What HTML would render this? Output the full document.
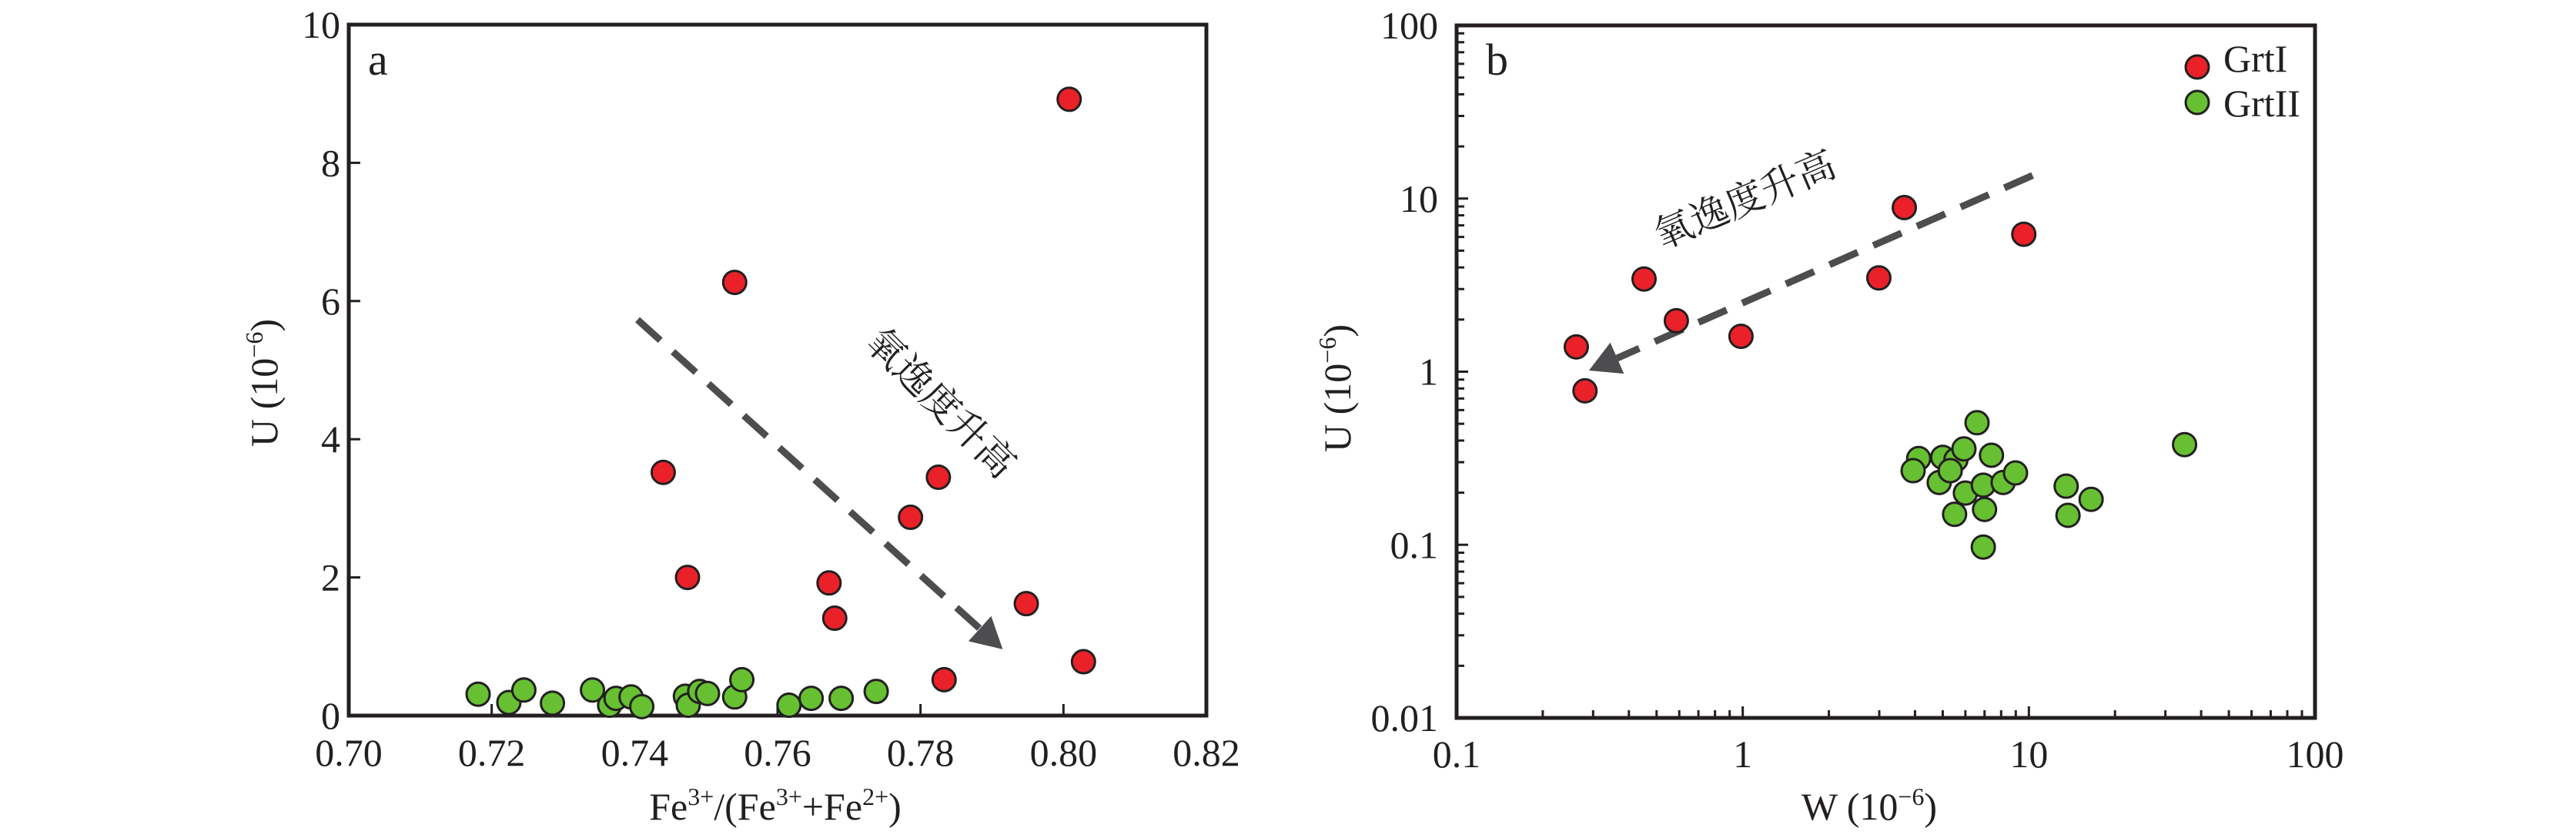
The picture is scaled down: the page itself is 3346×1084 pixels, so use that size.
<!DOCTYPE html>
<html><head><meta charset="utf-8">
<style>
html,body{margin:0;padding:0;background:#fff;}
svg{display:block;}
text{font-family:"Liberation Serif","Noto Serif CJK SC",serif;fill:#231f20;}
</style></head>
<body>
<svg id="fig" width="3346" height="1084" viewBox="0 0 3346 1084" xmlns="http://www.w3.org/2000/svg">
<g id="pa"></g>
<g id="pb"></g>
</svg>
<script>
// Panel a data
const aRedX = [0.8008,0.754,0.744,0.7825,0.7786,0.7474,0.7672,0.768,0.7948,0.8028,0.7833];
const aRedY = [8.92,6.27,3.52,3.45,2.87,2.0,1.92,1.41,1.62,0.78,0.52];
const aGreenX = [0.7181,0.7224,0.7245,0.7285,0.7341,0.7365,0.7374,0.7395,0.741,0.7471,0.7475,0.7491,0.7502,0.754,0.755,0.7616,0.7647,0.7689,0.7738];
const aGreenY = [0.31,0.19,0.37,0.18,0.37,0.15,0.25,0.27,0.13,0.28,0.15,0.35,0.32,0.27,0.52,0.15,0.25,0.25,0.35];
const aXTicks = [0.70,0.72,0.74,0.76,0.78,0.80,0.82];
const aXTickLabels = ["0.70","0.72","0.74","0.76","0.78","0.80","0.82"];
const aYTicks = [0,2,4,6,8,10];
const aYTickLabels = ["0","2","4","6","8","10"];
const aArrow = [[0.7404,5.73],[0.7915,0.96]];
// Panel b data
const bRedX = [0.262,0.281,0.452,0.586,0.986,2.99,3.67,9.6];
const bRedY = [1.39,0.775,3.43,1.97,1.60,3.48,8.87,6.22];
const bGreenX = [6.59,4.12,3.94,5.0,5.56,5.93,7.4,4.86,5.31,6.0,6.93,8.13,8.98,5.5,7.0,6.93,13.5,13.7,16.5,35];
const bGreenY = [0.507,0.315,0.268,0.32,0.31,0.358,0.329,0.229,0.268,0.199,0.221,0.229,0.26,0.15,0.16,0.097,0.218,0.148,0.183,0.379];
const bXTicks = [0.1,1,10,100];
const bXTickLabels = ["0.1","1","10","100"];
const bYTicks = [0.01,0.1,1,10,100];
const bYTickLabels = ["0.01","0.1","1","10","100"];
const bArrow = [[10.3,13.6],[0.29,1.015]];

const NS="http://www.w3.org/2000/svg";
function mk(parent,tag,attrs){const e=document.createElementNS(NS,tag);for(const k in attrs)e.setAttribute(k,attrs[k]);parent.appendChild(e);return e;}
const RED="#ea2129", GREEN="#66c032", INK="#231f20", ARROW="#4d4d4f";
const R=15, FS=50;

// ---------- Panel A ----------
const pa=document.getElementById('pa');
const A={l:453,r:1567,t:32,b:929};
const ax=v=>A.l+(v-0.70)/0.12*(A.r-A.l);
const ay=v=>A.b-(v/10)*(A.b-A.t);
aXTicks.forEach((v,i)=>{
  const t=mk(pa,'line',{x1:ax(v),x2:ax(v),y1:A.b,y2:A.b-15,stroke:INK,'stroke-width':3});
  
  
  const l=mk(pa,'text',{x:ax(v),y:994,'text-anchor':'middle','font-size':FS});
  l.textContent=aXTickLabels[i];
  
  
});
aYTicks.forEach((v,i)=>{
  const t=mk(pa,'line',{x1:A.l,x2:A.l+15,y1:ay(v),y2:ay(v),stroke:INK,'stroke-width':3});
  
  
  const l=mk(pa,'text',{x:442,y:ay(v)+17,'text-anchor':'end','font-size':FS});
  l.textContent=aYTickLabels[i];
  
  
});
{
const f=mk(pa,'rect',{x:A.l,y:A.t,width:A.r-A.l,height:A.b-A.t,fill:'none',stroke:INK,'stroke-width':5});


const p=mk(pa,'text',{x:478,y:97,'font-size':58});p.textContent='a';


const xl=mk(pa,'text',{x:1007,y:1064,'text-anchor':'middle','font-size':FS});
xl.innerHTML='Fe<tspan font-size="32" dy="-19">3+</tspan><tspan dy="19">/(Fe</tspan><tspan font-size="32" dy="-19">3+</tspan><tspan dy="19">+Fe</tspan><tspan font-size="32" dy="-19">2+</tspan><tspan dy="19">)</tspan>';


const yl=mk(pa,'text',{x:0,y:0,'text-anchor':'middle','font-size':FS,transform:'translate(360,497) rotate(-90)'});
yl.innerHTML='U (10<tspan font-size="32" dy="-19">−6</tspan><tspan dy="19">)</tspan>';


const x1=ax(aArrow[0][0]),y1=ay(aArrow[0][1]),x2=ax(aArrow[1][0]),y2=ay(aArrow[1][1]);
const ang=Math.atan2(y2-y1,x2-x1);
const hl=40,hw=22;
const bx=x2-hl*Math.cos(ang),by=y2-hl*Math.sin(ang);
const ln=mk(pa,'line',{x1:x1,y1:y1,x2:bx,y2:by,stroke:ARROW,'stroke-width':9,'stroke-dasharray':'40 22'});


const hd=mk(pa,'polygon',{points:`${x2},${y2} ${bx-hw*Math.sin(ang)},${by+hw*Math.cos(ang)} ${bx+hw*Math.sin(ang)},${by-hw*Math.cos(ang)}`,fill:ARROW});


const at=mk(pa,'text',{x:0,y:0,'text-anchor':'middle','font-size':FS,transform:'translate(1210,535) rotate(45)'});
at.textContent='氧逸度升高';


}
aGreenX.forEach((v,i)=>{
  const c=mk(pa,'circle',{cx:ax(v),cy:ay(aGreenY[i]),r:R,fill:GREEN,stroke:INK,'stroke-width':3});
  
  
});
aRedX.forEach((v,i)=>{
  const c=mk(pa,'circle',{cx:ax(v),cy:ay(aRedY[i]),r:R,fill:RED,stroke:INK,'stroke-width':3});
  
  
});

// ---------- Panel B ----------
const pb=document.getElementById('pb');
const B={l:1892,r:3007,t:33,b:932};
const bx_=v=>B.l+(Math.log10(v)+1)/3*(B.r-B.l);
const by_=v=>B.b-(Math.log10(v)+2)/4*(B.b-B.t);
for(let d=-1;d<2;d++){for(let m=1;m<10;m++){
  const v=m*Math.pow(10,d);const len=m===1?15:10;
  const t=mk(pb,'line',{x1:bx_(v),x2:bx_(v),y1:B.b,y2:B.b-len,stroke:INK,'stroke-width':3});
  
  
}}
for(let d=-2;d<2;d++){for(let m=1;m<10;m++){
  const v=m*Math.pow(10,d);const len=m===1?15:10;
  const t=mk(pb,'line',{x1:B.l,x2:B.l+len,y1:by_(v),y2:by_(v),stroke:INK,'stroke-width':3});
  
  
}}
bXTicks.forEach((v,i)=>{
  const l=mk(pb,'text',{x:bx_(v),y:996,'text-anchor':'middle','font-size':FS});
  l.textContent=bXTickLabels[i];
  
  
});
bYTicks.forEach((v,i)=>{
  const l=mk(pb,'text',{x:1868,y:by_(v)+17,'text-anchor':'end','font-size':FS});
  l.textContent=bYTickLabels[i];
  
  
});
{
const f=mk(pb,'rect',{x:B.l,y:B.t,width:B.r-B.l,height:B.b-B.t,fill:'none',stroke:INK,'stroke-width':5});


const p=mk(pb,'text',{x:1930,y:97,'font-size':58});p.textContent='b';


const xl=mk(pb,'text',{x:2428,y:1064,'text-anchor':'middle','font-size':FS});
xl.innerHTML='W (10<tspan font-size="32" dy="-19">−6</tspan><tspan dy="19">)</tspan>';


const yl=mk(pb,'text',{x:0,y:0,'text-anchor':'middle','font-size':FS,transform:'translate(1754,504) rotate(-90)'});
yl.innerHTML='U (10<tspan font-size="32" dy="-19">−6</tspan><tspan dy="19">)</tspan>';


const x1=bx_(bArrow[0][0]),y1=by_(bArrow[0][1]),x2=bx_(bArrow[1][0]),y2=by_(bArrow[1][1]);
const ang=Math.atan2(y2-y1,x2-x1);
const hl=40,hw=22;
const hx=x2-hl*Math.cos(ang),hy=y2-hl*Math.sin(ang);
const ln=mk(pb,'line',{x1:x1,y1:y1,x2:hx,y2:hy,stroke:ARROW,'stroke-width':9,'stroke-dasharray':'40 22'});


const hd=mk(pb,'polygon',{points:`${x2},${y2} ${hx-hw*Math.sin(ang)},${hy+hw*Math.cos(ang)} ${hx+hw*Math.sin(ang)},${hy-hw*Math.cos(ang)}`,fill:ARROW});


const at=mk(pb,'text',{x:0,y:0,'text-anchor':'middle','font-size':FS,transform:'translate(2273,275) rotate(-23)'});
at.textContent='氧逸度升高';


const c1=mk(pb,'circle',{cx:2854,cy:87,r:R,fill:RED,stroke:INK,'stroke-width':3});


const t1=mk(pb,'text',{x:2888,y:93,'font-size':FS});t1.textContent='GrtI';


const c2=mk(pb,'circle',{cx:2854,cy:133,r:R,fill:GREEN,stroke:INK,'stroke-width':3});


const t2=mk(pb,'text',{x:2888,y:151,'font-size':FS});t2.textContent='GrtII';


}
bGreenX.forEach((v,i)=>{
  const c=mk(pb,'circle',{cx:bx_(v),cy:by_(bGreenY[i]),r:R,fill:GREEN,stroke:INK,'stroke-width':3});
  
  
});
bRedX.forEach((v,i)=>{
  const c=mk(pb,'circle',{cx:bx_(v),cy:by_(bRedY[i]),r:R,fill:RED,stroke:INK,'stroke-width':3});
  
  
});
</script>
</body></html>
